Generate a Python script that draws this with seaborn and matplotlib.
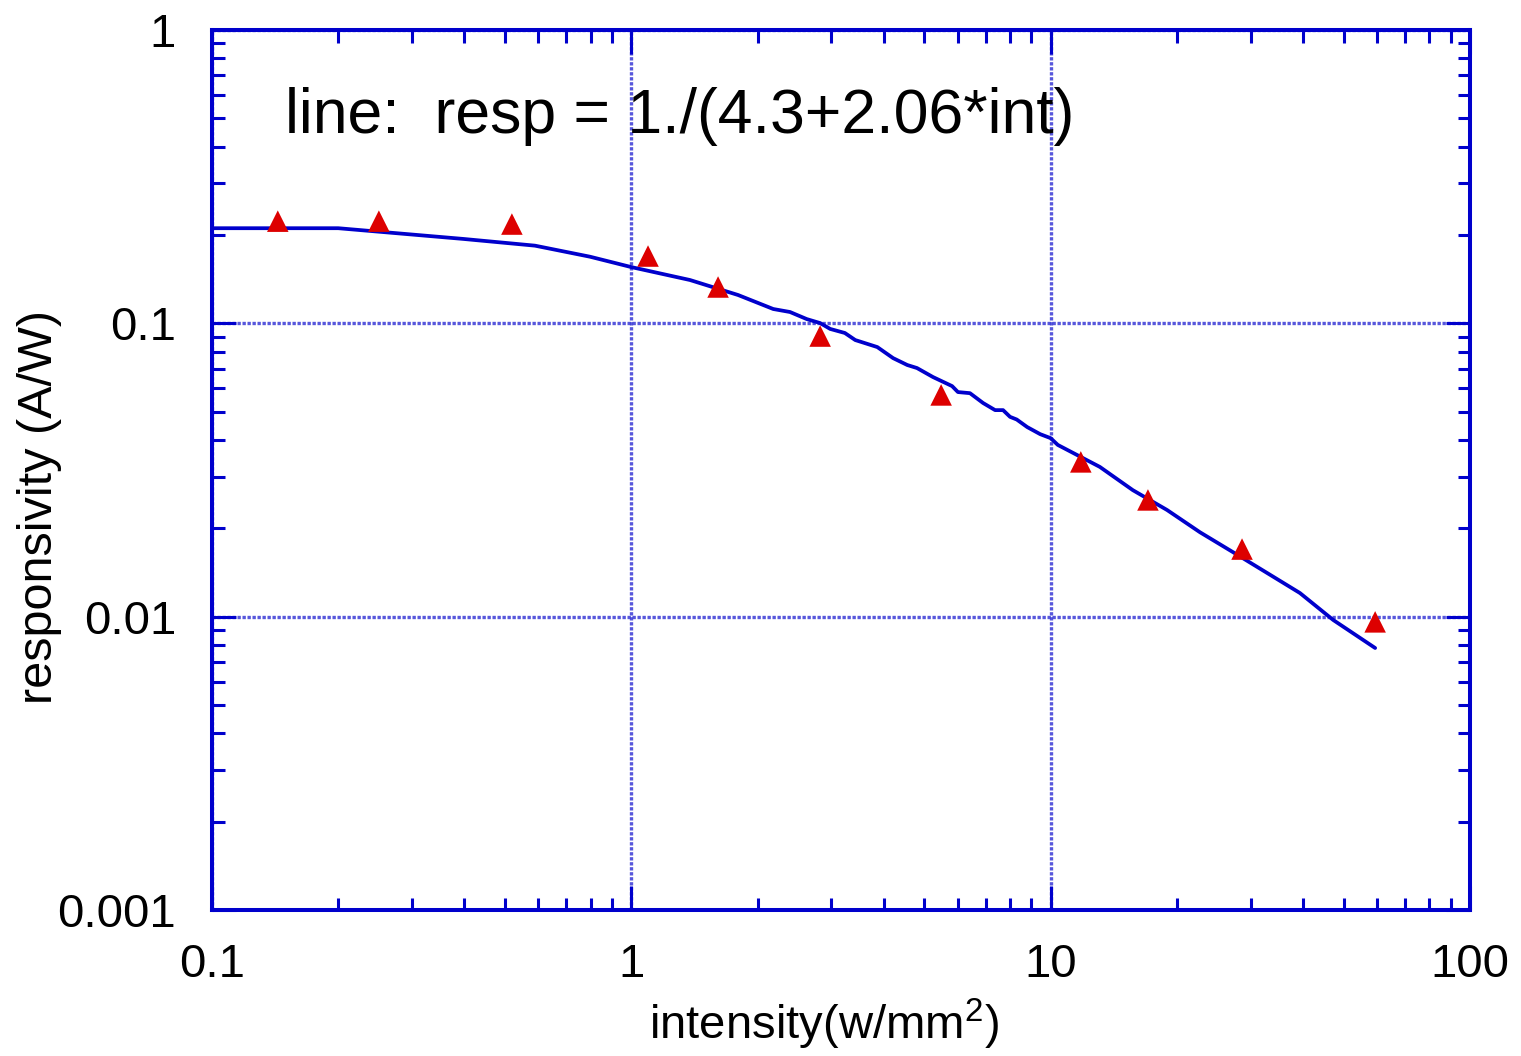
import numpy as np
import pandas as pd
import matplotlib
matplotlib.use("Agg")
import matplotlib.pyplot as plt
import seaborn as sns
from matplotlib.ticker import LogLocator, NullFormatter, FixedLocator, FixedFormatter

# measured points (red triangles)
meas_int = [0.1435, 0.25, 0.519, 1.096, 1.61, 2.82, 5.48, 11.8, 17.06, 28.6, 59.4]
meas_resp = [0.223, 0.223, 0.218, 0.1696, 0.133, 0.0905, 0.057, 0.0337, 0.025, 0.017, 0.0096]

# fitted line
line_int = [0.1, 0.2, 0.397, 0.589, 0.797, 1.0, 1.38, 1.797, 2.18, 2.39, 2.62, 2.82, 2.98,
            3.23, 3.42, 3.86, 4.21, 4.55, 4.80, 5.24, 5.82, 6.01, 6.42, 6.90, 7.37, 7.70,
            8.0, 8.3, 8.79, 9.44, 10.0, 10.4, 13.1, 15.7, 18.95, 22.7, 27.2, 32.8, 39.3,
            47.2, 59.4]
line_resp = [0.211, 0.211, 0.194, 0.184, 0.1687, 0.1555, 0.1405, 0.1249, 0.1119, 0.1093,
             0.1034, 0.1002, 0.0957, 0.0927, 0.0877, 0.083, 0.0761, 0.0721, 0.0704, 0.0656,
             0.0611, 0.0583, 0.0578, 0.0535, 0.0506, 0.0506, 0.048, 0.047, 0.0443, 0.0419,
             0.0406, 0.0385, 0.0324, 0.027, 0.0231, 0.0194, 0.0166, 0.0141, 0.01204,
             0.00974, 0.00782]

x_ticks = [0.1, 1, 10, 100]
x_ticklabels = ["0.1", "1", "10", "100"]
y_ticks = [0.001, 0.01, 0.1, 1]
y_ticklabels = ["0.001", "0.01", "0.1", "1"]

annotation = "line:  resp = 1./(4.3+2.06*int)"
xlabel = "intensity(w/mm$^2$)"
ylabel = "responsivity (A/W)"

sns.set_theme(style="white")
plt.rcParams['font.family'] = ['Liberation Sans', 'DejaVu Sans']
plt.rcParams['mathtext.default'] = 'regular'
plt.rcParams['mathtext.fontset'] = 'custom'
plt.rcParams['mathtext.rm'] = 'Liberation Sans'

blue = "#0000CC"
grid_blue = "#3A3AD6"
red = "#DD0000"

fig = plt.figure(figsize=(15.21, 10.56), dpi=100)
ax = fig.add_axes([212/1521, 1-910/1056, 1258/1521, 880/1056])

line_df = pd.DataFrame({"int": line_int, "resp": line_resp})
meas_df = pd.DataFrame({"int": meas_int, "resp": meas_resp})

sns.lineplot(data=line_df, x="int", y="resp", ax=ax, color=blue, lw=2.7,
             sort=False, estimator=None, zorder=3)
sns.scatterplot(data=meas_df, x="int", y="resp", ax=ax, marker="^", s=240,
                color=red, edgecolor="none", zorder=4)

ax.set_xscale("log")
ax.set_yscale("log")
ax.set_xlim(0.1, 100)
ax.set_ylim(0.001, 1)

ax.xaxis.set_major_locator(FixedLocator(x_ticks))
ax.xaxis.set_major_formatter(FixedFormatter(x_ticklabels))
ax.yaxis.set_major_locator(FixedLocator(y_ticks))
ax.yaxis.set_major_formatter(FixedFormatter(y_ticklabels))
ax.xaxis.set_minor_locator(LogLocator(base=10, subs=np.arange(2, 10), numticks=20))
ax.yaxis.set_minor_locator(LogLocator(base=10, subs=np.arange(2, 10), numticks=20))
ax.xaxis.set_minor_formatter(NullFormatter())
ax.yaxis.set_minor_formatter(NullFormatter())

ax.tick_params(which="both", direction="in", top=True, right=True, bottom=True, left=True,
               color=blue, width=2.2)
ax.tick_params(which="major", length=17)
ax.tick_params(which="minor", length=9)
ax.tick_params(axis="y", which="major", labelsize=34, pad=26, labelcolor="black")
ax.tick_params(axis="x", which="major", labelsize=34, pad=24, labelcolor="black")

for sp in ax.spines.values():
    sp.set_color(blue)
    sp.set_linewidth(2.9)
    sp.set_visible(True)

ax.grid(True, which="major", color=grid_blue, linestyle=(0, (1, 0.5)), lw=2.4, alpha=0.85)
ax.set_axisbelow(True)

ax.set_xlabel(xlabel, fontsize=34, color="black")
ax.set_ylabel(ylabel, fontsize=35, color="black")
ax.xaxis.label.set_va("center")
ax.yaxis.label.set_va("center")
ax.xaxis.set_label_coords(0.4865, -0.130)
ax.yaxis.set_label_coords(-0.137, 0.458)

ax.text(0.058, 0.883, annotation, transform=ax.transAxes, fontsize=45,
        ha="left", va="baseline", color="black", zorder=5)

fig.savefig("out.png", dpi=100)
